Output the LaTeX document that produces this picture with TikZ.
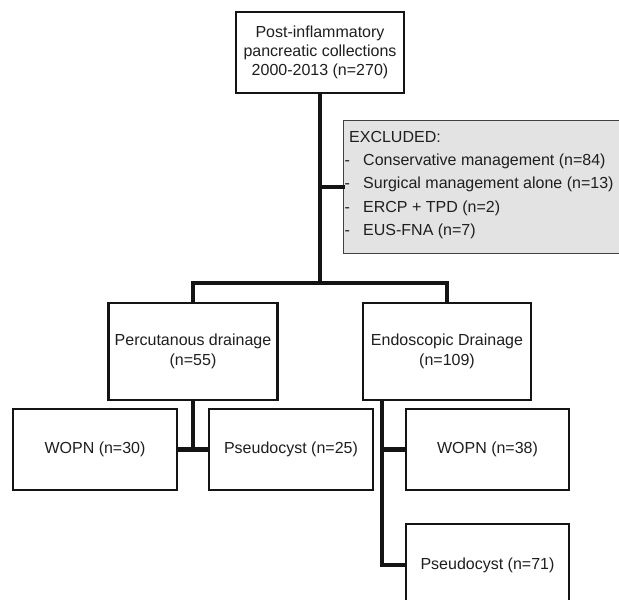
\documentclass[tikz,border=0pt]{standalone}
\usepackage{fontspec}
\setmainfont{Liberation Sans}
\begin{document}
\begin{tikzpicture}[x=1pt,y=-1pt,
  box/.style={draw=black!92,line width=2.2pt,fill=white,inner sep=0pt,align=center,
    font=\fontsize{16}{19}\selectfont,text=black!88},
  conn/.style={line width=4.5pt,draw=black!92,line join=miter,line cap=rect}]
\clip (0,0) rectangle (619,600);
% excluded box
\node[draw=black!75,line width=1.3pt,fill=black!11,anchor=north west,minimum width=281pt,minimum height=133pt,inner sep=0pt] (excl) at (343,120) {};
\node[anchor=north west,align=left,inner sep=0pt,font=\fontsize{16}{23.3}\selectfont,text=black!88] (excltext) at (344.5,131)
  {\hspace{4.5pt}EXCLUDED:\\
   \makebox[18.5pt][l]{-}Conservative management (n=84)\\
   \makebox[18.5pt][l]{-}Surgical management alone (n=13)\\
   \makebox[18.5pt][l]{-}ERCP + TPD (n=2)\\
   \makebox[18.5pt][l]{-}EUS-FNA (n=7)};
% boxes
\node[box,minimum width=168pt,minimum height=81pt] (top) at (320,52.5)
  {Post-inflammatory\\pancreatic collections\\2000-2013 (n=270)};
\node[box,minimum width=169pt,minimum height=97pt,font=\fontsize{16}{20}\selectfont] (perc) at (193,351.5)
  {Percutanous drainage\\(n=55)};
\node[box,minimum width=168pt,minimum height=97pt,font=\fontsize{16}{20}\selectfont] (endo) at (447,351.5)
  {Endoscopic Drainage\\(n=109)};
\node[box,minimum width=164pt,minimum height=81pt] (w30) at (95,449.5) {WOPN (n=30)};
\node[box,minimum width=164pt,minimum height=81pt] (p25) at (291,449.5) {Pseudocyst (n=25)};
\node[box,minimum width=163pt,minimum height=81pt] (w38) at (487.5,449.5) {WOPN (n=38)};
\node[box,minimum width=163pt,minimum height=82pt] (p71) at (487.5,565) {Pseudocyst (n=71)};
% connectors
\coordinate (j1) at (320,283);
\coordinate (j3) at (382,401);
\draw[conn] (top.south) -- (j1);
\draw[conn] (perc.north) |- (j1);
\draw[conn] (endo.north) |- (j1);
\draw[conn] (excl.west) -- (excl.west -| top.south);
\draw[conn] (perc.south) -- (perc.south |- w30.east);
\draw[conn] (w30.east) -- (p25.west);
\draw[conn] (j3) |- (p71.west);
\draw[conn] (w38.west) -- (w38.west -| j3);
\end{tikzpicture}
\end{document}
